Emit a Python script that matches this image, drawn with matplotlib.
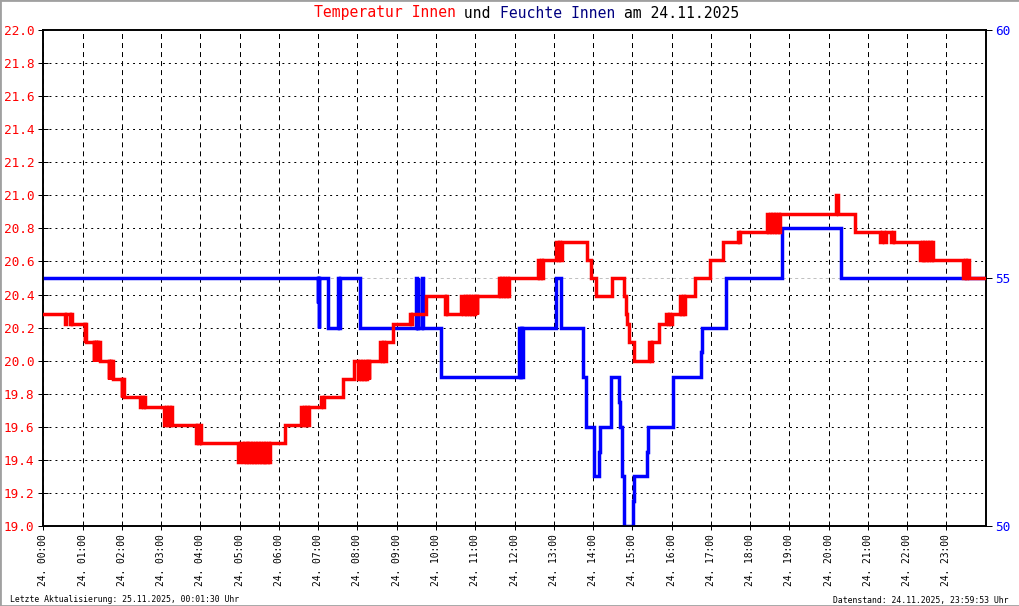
import numpy as np
import matplotlib
matplotlib.use('Agg')
import matplotlib.pyplot as plt
from matplotlib.patches import Rectangle

plt.rcParams['font.family'] = ['DejaVu Sans Mono']
plt.rcParams['lines.scale_dashes'] = False

# Temperatur Innen (degC), Stufenwerte ab Uhrzeit
temp_time = [
    "00:00", "00:33", "00:35", "00:41", "00:43", "00:44",
    "01:03", "01:04", "01:05",
    "01:17", "01:18", "01:20", "01:21", "01:23", "01:24", "01:26",
    "01:40", "01:41", "01:43", "01:44", "01:46",
    "02:00", "02:01", "02:03",
    "02:28", "02:30", "02:32", "02:34", "02:36",
    "03:05", "03:07", "03:09", "03:11", "03:13", "03:15", "03:17",
    "03:53", "03:55", "03:57", "03:59", "04:01",
    "04:58", "05:00", "05:05", "05:07", "05:09", "05:11", "05:13", "05:15", "05:17",
    "05:19", "05:21", "05:23", "05:25", "05:27", "05:29", "05:31", "05:33", "05:35",
    "05:37", "05:39", "05:41", "05:43", "05:45", "05:47",
    "06:10",
    "06:34", "06:36", "06:38", "06:40", "06:42", "06:44", "06:46",
    "07:05", "07:07", "07:09",
    "07:38",
    "07:55", "08:01", "08:03", "08:05", "08:07", "08:09", "08:11", "08:13", "08:15", "08:17", "08:18",
    "08:35", "08:37", "08:39", "08:41", "08:43",
    "08:55",
    "09:21", "09:22", "09:24",
    "09:45",
    "10:14", "10:15", "10:17",
    "10:39", "10:41", "10:44", "10:46", "10:48", "10:50", "10:52", "10:54", "10:56", "10:58", "11:00", "11:02", "11:03",
    "11:36", "11:38", "11:40", "11:42", "11:44", "11:46", "11:49", "11:50", "11:51",
    "12:36", "12:38", "12:40", "12:42", "12:44",
    "13:04", "13:06", "13:08", "13:10", "13:12",
    "13:51", "13:57", "14:05",
    "14:29",
    "14:47", "14:50", "14:52", "14:55", "15:02",
    "15:26", "15:28", "15:30",
    "15:41",
    "15:52", "15:54", "15:56", "15:58", "16:00",
    "16:13", "16:15", "16:17", "16:19", "16:21",
    "16:36", "16:58", "17:19",
    "17:42", "17:43", "17:45",
    "18:26", "18:28", "18:30", "18:32", "18:34", "18:36", "18:38", "18:40", "18:42", "18:44", "18:46",
    "20:12", "20:14",
    "20:41",
    "21:18", "21:22", "21:25", "21:27", "21:36", "21:38", "21:40",
    "22:20", "22:22", "22:24", "22:26", "22:28", "22:30", "22:32", "22:34", "22:36", "22:38", "22:40",
    "23:26", "23:28", "23:30", "23:32", "23:35",
    "23:59:53",
]
temp_val = [
    20.28, 20.22, 20.28, 20.22, 20.28, 20.22,
    20.11, 20.22, 20.11,
    20.00, 20.11, 20.00, 20.11, 20.00, 20.11, 20.00,
    19.89, 20.00, 19.89, 20.00, 19.89,
    19.78, 19.89, 19.78,
    19.72, 19.78, 19.72, 19.78, 19.72,
    19.61, 19.72, 19.61, 19.72, 19.61, 19.72, 19.61,
    19.50, 19.61, 19.50, 19.61, 19.50,
    19.39, 19.50, 19.39, 19.50, 19.39, 19.50, 19.39, 19.50, 19.39,
    19.50, 19.39, 19.50, 19.39, 19.50, 19.39, 19.50, 19.39, 19.50,
    19.39, 19.50, 19.39, 19.50, 19.39, 19.50,
    19.61,
    19.72, 19.61, 19.72, 19.61, 19.72, 19.61, 19.72,
    19.78, 19.72, 19.78,
    19.89,
    20.00, 19.89, 20.00, 19.89, 20.00, 19.89, 20.00, 19.89, 20.00, 19.89, 20.00,
    20.11, 20.00, 20.11, 20.00, 20.11,
    20.22,
    20.28, 20.22, 20.28,
    20.39,
    20.28, 20.39, 20.28,
    20.39, 20.28, 20.39, 20.28, 20.39, 20.28, 20.39, 20.28, 20.39, 20.28, 20.39, 20.28, 20.39,
    20.50, 20.39, 20.50, 20.39, 20.50, 20.39, 20.50, 20.39, 20.50,
    20.61, 20.50, 20.61, 20.50, 20.61,
    20.72, 20.61, 20.72, 20.61, 20.72,
    20.61, 20.50, 20.39,
    20.50,
    20.39, 20.28, 20.22, 20.11, 20.00,
    20.11, 20.00, 20.11,
    20.22,
    20.28, 20.22, 20.28, 20.22, 20.28,
    20.39, 20.28, 20.39, 20.28, 20.39,
    20.50, 20.61, 20.72,
    20.78, 20.72, 20.78,
    20.89, 20.78, 20.89, 20.78, 20.89, 20.78, 20.89, 20.78, 20.89, 20.78, 20.89,
    21.00, 20.89,
    20.78,
    20.72, 20.78, 20.72, 20.78, 20.72, 20.78, 20.72,
    20.61, 20.72, 20.61, 20.72, 20.61, 20.72, 20.61, 20.72, 20.61, 20.72, 20.61,
    20.50, 20.61, 20.50, 20.61, 20.50,
    20.50,
]

# Feuchte Innen (%)
hum_time = [
    "00:00",
    "06:59", "07:00", "07:01", "07:02",
    "07:15",
    "07:31", "07:32", "07:34",
    "08:04",
    "09:30", "09:31", "09:32", "09:33", "09:38", "09:40",
    "10:07",
    "12:07", "12:08", "12:10", "12:11", "12:13",
    "13:04", "13:11",
    "13:45", "13:50", "14:01", "14:09", "14:10",
    "14:27", "14:28", "14:40", "14:41", "14:45", "14:47",
    "15:01", "15:02",
    "15:23", "15:24",
    "16:02",
    "16:45", "16:46",
    "17:23",
    "18:48",
    "20:19",
    "23:59:53",
]
hum_val = [
    55,
    54.5, 55, 54, 55,
    54,
    55, 54, 55,
    54,
    55, 54, 55, 54, 55, 54,
    53,
    54, 53, 54, 53, 54,
    55, 54,
    53, 52, 51, 51.5, 52,
    52.5, 53, 52.5, 52, 51, 50,
    50.5, 51,
    51.5, 52,
    53,
    53.5, 54,
    55,
    56,
    55,
    55,
]

hour_ticks = list(range(24))
hour_labels = ["24. %02d:00" % h for h in hour_ticks]
temp_ticks = np.round(np.arange(19.0, 22.01, 0.2), 1)
hum_ticks = [50, 55, 60]


def to_hours(s):
    parts = [int(p) for p in s.split(":")]
    while len(parts) < 3:
        parts.append(0)
    return parts[0] + parts[1] / 60 + parts[2] / 3600


fig = plt.figure(figsize=(10.2, 6.06), dpi=100)
ax_h = fig.add_axes([43.3 / 1020, 1 - 526 / 606, (985.7 - 43.3) / 1020, 496 / 606])
ax_t = ax_h.twinx()
ax_h.yaxis.tick_right()
ax_t.yaxis.tick_left()

# Gitter (auf der unteren Achse)
ax_h.set_xlim(0, 24)
ax_h.set_ylim(50, 60)
ax_t.set_ylim(19, 22)
ax_h.set_xticks(hour_ticks)
ax_h.set_xticklabels(hour_labels)
ax_h.set_yticks(hum_ticks)
ax_h.set_yticklabels([str(v) for v in hum_ticks])
ax_h.set_yticks(np.linspace(50, 60, len(temp_ticks)), minor=True)
ax_h.grid(which='major', axis='x', color='black', lw=0.72, linestyle=(0, (3.6, 2.9)))
ax_h.grid(which='minor', axis='y', color='black', lw=0.72, linestyle=(0, (1.4, 2.9)))
ax_h.axhline(55, color='#c0c0c0', lw=0.72, linestyle=(0, (2.2, 2.2)), zorder=1)

ax_t.set_yticks(temp_ticks)
ax_t.set_yticklabels(["%.1f" % v for v in temp_ticks])

# Linien
ax_h.step([to_hours(t) for t in hum_time], hum_val, where='post',
          color='#0000ff', lw=2.5, solid_joinstyle='miter', zorder=3)
ax_t.step([to_hours(t) for t in temp_time], temp_val, where='post',
          color='#ff0000', lw=2.5, solid_joinstyle='miter', zorder=3)

ax_h.tick_params(axis='x', direction='out', length=3, width=0.72, pad=3,
                 labelsize=6.9, labelrotation=90)
ax_h.tick_params(axis='y', which='major', direction='out', length=4.3, width=0.72,
                 pad=2.2, labelsize=9.2, labelcolor='#0000ff')
ax_h.tick_params(axis='y', which='minor', length=0)
ax_t.tick_params(axis='y', direction='inout', length=7.2, width=0.72, pad=3,
                 labelsize=9.2, labelcolor='#ff0000')
for a in (ax_h, ax_t):
    for sp in a.spines.values():
        sp.set_linewidth(1.2)

# Titel in Farben (Monospace: feste Zeichenbreite)
title_parts = [("Temperatur Innen", '#ff0000'), (" und ", 'black'),
               ("Feuchte Innen", '#000080'), (" am 24.11.2025", 'black')]
title_size = 10.6
char_w = 0.602 * title_size * 100 / 72
x_px = 313.5
for txt, col in title_parts:
    fig.text(x_px / 1020, 1 - 13 / 606, txt, color=col, fontsize=title_size,
             ha='left', va='center')
    x_px += len(txt) * char_w

fig.text(10 / 1020, 1 - 600 / 606, "Letzte Aktualisierung: 25.11.2025, 00:01:30 Uhr",
         fontsize=5.9, ha='left', va='center')
fig.text(1009 / 1020, 1 - 600 / 606, "Datenstand: 24.11.2025, 23:59:53 Uhr",
         fontsize=5.9, ha='right', va='center')

fig.patches.append(Rectangle((0, 0), 1, 1, transform=fig.transFigure, fill=False,
                             edgecolor='#a0a0a0', lw=2))

fig.savefig('out.png', dpi=100)
